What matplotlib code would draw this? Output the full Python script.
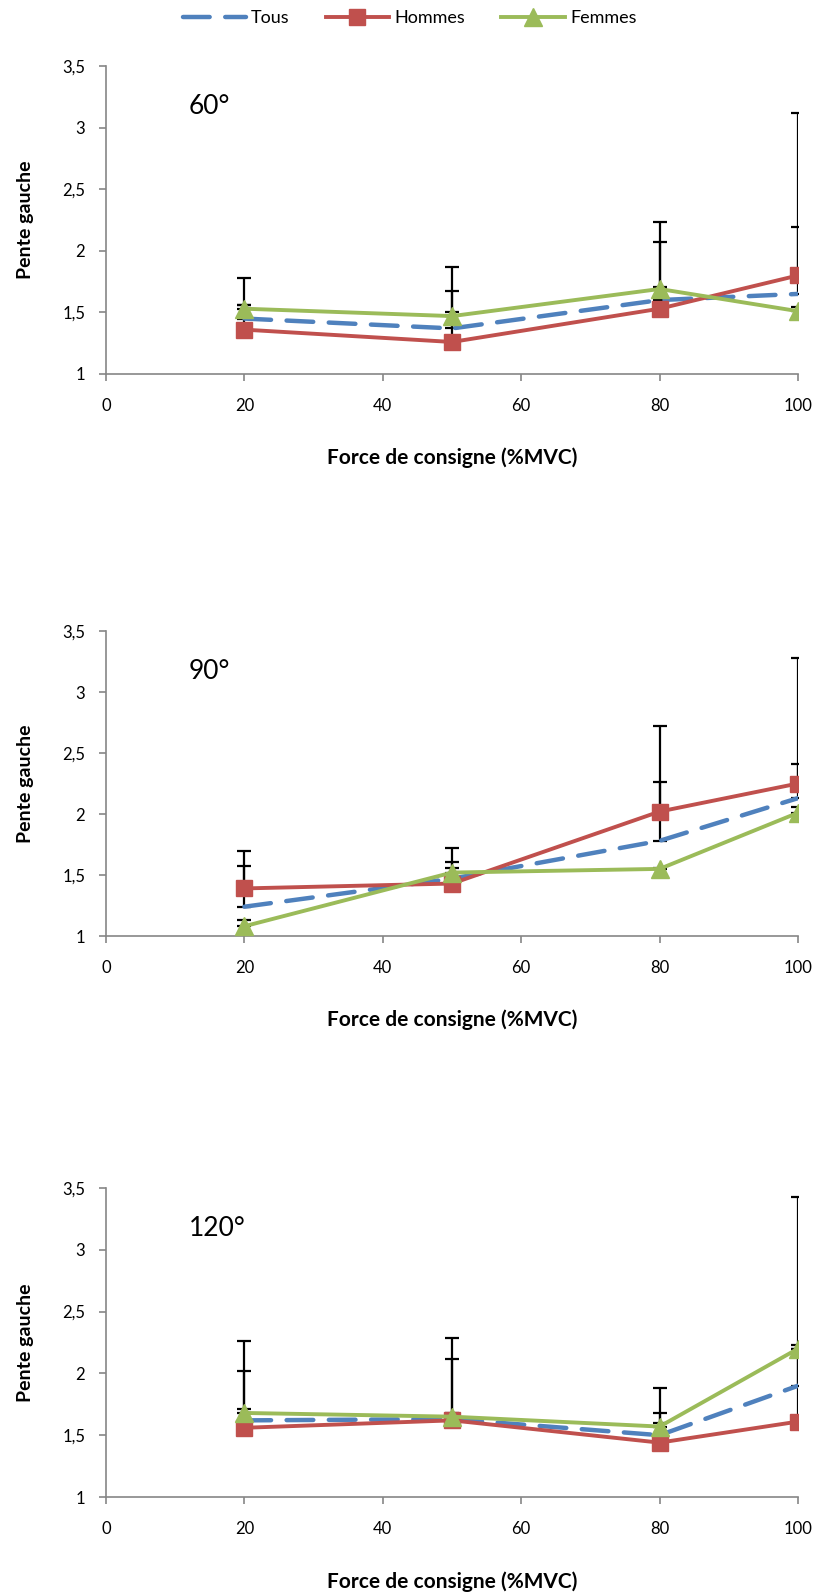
import matplotlib
matplotlib.use("Agg")
import matplotlib.pyplot as plt
from matplotlib.lines import Line2D

plt.rcParams['font.family'] = ['Lato', 'DejaVu Sans']

x = [20, 50, 80, 100]
panel_titles = ["60°", "90°", "120°"]
series_names = ["Tous", "Hommes", "Femmes"]

# Panel 60°
tous_60 = [1.45, 1.37, 1.60, 1.65]
hommes_60 = [1.36, 1.26, 1.53, 1.80]
femmes_60 = [1.53, 1.47, 1.69, 1.51]
tous_60_err = [0.11, 0.30, 0.47, 0.54]
hommes_60_err = [0.42, 0.61, 0.70, 1.32]
femmes_60_err = [0.03, 0.03, 0.02, 0.03]

# Panel 90°
tous_90 = [1.24, 1.47, 1.78, 2.13]
hommes_90 = [1.39, 1.43, 2.02, 2.25]
femmes_90 = [1.08, 1.52, 1.55, 2.01]
tous_90_err = [0.33, 0.14, 0.48, 0.28]
hommes_90_err = [0.31, 0.29, 0.70, 1.03]
femmes_90_err = [0.05, 0.04, 0.01, 0.05]

# Panel 120°
tous_120 = [1.62, 1.63, 1.50, 1.90]
hommes_120 = [1.56, 1.62, 1.44, 1.61]
femmes_120 = [1.68, 1.65, 1.57, 2.20]
tous_120_err = [0.40, 0.49, 0.18, 0.30]
hommes_120_err = [0.70, 0.67, 0.44, 1.82]
femmes_120_err = [0.03, 0.03, 0.03, 0.03]

yticks = [1, 1.5, 2, 2.5, 3, 3.5]
ytick_labels = ["1", "1,5", "2", "2,5", "3", "3,5"]
xticks = [0, 20, 40, 60, 80, 100]

panels = [
    (tous_60, hommes_60, femmes_60, tous_60_err, hommes_60_err, femmes_60_err),
    (tous_90, hommes_90, femmes_90, tous_90_err, hommes_90_err, femmes_90_err),
    (tous_120, hommes_120, femmes_120, tous_120_err, hommes_120_err, femmes_120_err),
]

BLUE = '#4F81BD'
RED = '#C0504D'
GREEN = '#9BBB59'
AXC = '#868686'

W, H = 819, 1595
fig = plt.figure(figsize=(W / 100, H / 100), dpi=100)

# axes boxes in pixels: (top, bottom)
boxes = [(66, 374), (631, 936), (1188, 1497)]
left, right = 106, 798

for (top, bottom), title, data in zip(boxes, panel_titles, panels):
    ax = fig.add_axes([left / W, 1 - bottom / H, (right - left) / W, (bottom - top) / H])
    t, h, f, te, he, fe = data
    # error bars (upper only)
    for vals, errs in ((t, te), (h, he), (f, fe)):
        ax.errorbar(x, vals, yerr=[[0] * len(errs), errs], fmt='none', ecolor='black',
                    elinewidth=1.6, capsize=5, capthick=1.6, zorder=2)
    ax.plot(x, t, color=BLUE, lw=3.2, dashes=(6, 3.5), dash_capstyle='round', zorder=3)
    ax.plot(x, h, color=RED, lw=2.8, marker='s', markersize=12, zorder=4)
    ax.plot(x, f, color=GREEN, lw=2.8, marker='^', markersize=13, zorder=5)

    ax.set_xlim(0, 100)
    ax.set_ylim(1, 3.5)
    ax.set_xticks(xticks)
    ax.set_xticklabels([str(v) for v in xticks], fontsize=12)
    ax.set_yticks(yticks)
    ax.set_yticklabels(ytick_labels, fontsize=12)
    for s in ('top', 'right'):
        ax.spines[s].set_visible(False)
    for s in ('left', 'bottom'):
        ax.spines[s].set_color(AXC)
        ax.spines[s].set_linewidth(1.2)
    ax.tick_params(axis='both', direction='out', length=5, color=AXC, width=1.2)
    ax.tick_params(axis='y', pad=10)
    ax.tick_params(axis='x', pad=12)
    ax.text(12, 3.17, title, fontsize=19, ha='left', va='center')
    ax.text(0.5, -0.273, "Force de consigne (%MVC)", transform=ax.transAxes,
            ha='center', va='center', fontsize=15, fontweight='bold')
    ax.text(-0.117, 0.5, "Pente gauche", transform=ax.transAxes, rotation=90,
            ha='center', va='center', fontsize=14, fontweight='bold')

handles = [
    Line2D([], [], color=BLUE, lw=3.2, dashes=(6, 3.5), dash_capstyle='round'),
    Line2D([], [], color=RED, lw=2.8, marker='s', markersize=12),
    Line2D([], [], color=GREEN, lw=2.8, marker='^', markersize=13),
]
fig.legend(handles, series_names, loc='center', bbox_to_anchor=(0.5, 1 - 18 / H), ncol=3,
           frameon=False, fontsize=13, handlelength=3.5, columnspacing=2.0, handletextpad=0.3)

fig.savefig('out.png', dpi=100)
